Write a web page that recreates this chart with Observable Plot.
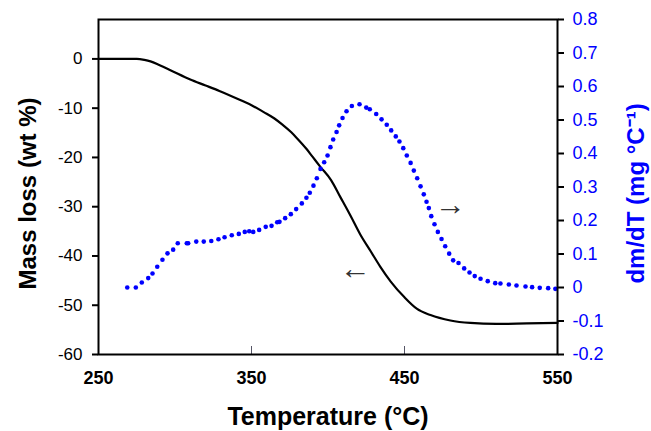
<!DOCTYPE html>
<html>
<head>
<meta charset="utf-8">
<script src="https://cdn.jsdelivr.net/npm/d3@7"></script>
<script src="https://cdn.jsdelivr.net/npm/@observablehq/plot@0.6"></script>
<style>
  html, body { margin: 0; padding: 0; background: #fff; }
  #chart svg { display: block; font-family: "Liberation Sans", Arial, sans-serif; }
</style>
</head>
<body>
<div id="chart"></div>
<script>
// ---- Data ----
const massTemp = [250,275,280,284,290,297,310,320,329,343,350,358,365,370,376,380,386,390,395,402,408,415,421,428,434,441,450,458,467,480,493,510,530,550];
const massLoss = [0,0,-0.2,-0.5,-1.3,-2.3,-4.2,-5.4,-6.5,-8.4,-9.4,-10.8,-12.1,-13.3,-14.9,-16.2,-18.3,-19.9,-21.9,-24.6,-28.0,-32.0,-35.6,-39.1,-42.1,-45.2,-48.4,-50.7,-52.0,-53.1,-53.6,-53.8,-53.7,-53.6];

const dmTemp = [268.8,274.4,278.3,282.5,285.3,288.4,291.8,295.1,298.8,301.8,307.7,308.6,313.9,318.8,323.7,328.4,332.4,337.1,341.7,345.6,348.5,351.1,355.0,359.3,363.1,366.8,368.3,372.0,375.7,379.2,382.9,385.9,388.1,390.5,392.7,395.1,397.5,399.7,401.6,403.4,405.6,407.3,409.5,412.1,415.6,420.6,425.0,427.3,431.5,435.0,438.4,441.3,444.3,446.7,449.2,451.5,454.0,456.1,458.3,460.5,462.6,464.4,465.9,467.5,469.6,471.8,474.2,476.6,479.2,481.8,485.3,489.0,492.5,495.9,499.7,504.4,509.3,512.7,518.2,523.2,529.1,533.4,538.4,543.9,548.6];
const dmdT = [0.000,0.000,0.015,0.028,0.042,0.062,0.083,0.102,0.113,0.132,0.132,0.132,0.137,0.137,0.139,0.144,0.150,0.156,0.160,0.166,0.168,0.166,0.172,0.181,0.184,0.195,0.196,0.207,0.219,0.234,0.251,0.268,0.283,0.304,0.326,0.354,0.374,0.394,0.419,0.442,0.464,0.484,0.506,0.526,0.542,0.547,0.537,0.532,0.518,0.502,0.486,0.469,0.451,0.436,0.416,0.394,0.372,0.349,0.326,0.302,0.278,0.256,0.237,0.213,0.189,0.166,0.145,0.123,0.101,0.081,0.073,0.057,0.045,0.034,0.026,0.019,0.013,0.012,0.009,0.006,0.003,0.001,-0.001,-0.002,-0.004];

const xTicks = [250, 350, 450, 550];
const leftTicks = [-60, -50, -40, -30, -20, -10, 0];
const rightTicks = [-0.2, -0.1, 0, 0.1, 0.2, 0.3, 0.4, 0.5, 0.6, 0.7, 0.8];
const leftDomain = [-60, 8];
const rightDomain = [-0.2, 0.8];

const arrowTemp = [480, 418];
const arrowMass = [-29.6, -42.7];
const arrowText = ["\u2192", "\u2190"];

const xTitle = "Temperature (°C)";
const leftTitle = "Mass loss (wt %)";
const rightTitle = "dm/dT (mg °C\u207B\u00B9)";

// ---- Build ----
const massData = massTemp.map((t, i) => ({t, m: massLoss[i]}));
const dmData = dmTemp.map((t, i) => ({t, v: dmdT[i]}));
const arrows = arrowTemp.map((t, i) => ({t, m: arrowMass[i], s: arrowText[i]}));

const toLeft = d3.scaleLinear().domain(rightDomain).range(leftDomain);
const fmtRight = d => { const v = Math.round(toLeft.invert(d) * 10) / 10; return v === 0 ? "0" : String(v); };

const chart = Plot.plot({
  width: 651,
  height: 431,
  marginLeft: 98,
  marginRight: 94,
  marginTop: 19,
  marginBottom: 77,
  style: {fontFamily: '"Liberation Sans", Arial, sans-serif', background: "#fff"},
  x: {domain: [250, 550]},
  y: {domain: leftDomain},
  marks: [
    Plot.ruleX([350, 450], {insetTop: 327, stroke: "#556", strokeWidth: 1}),
    Plot.line(massData, {x: "t", y: "m", stroke: "black", strokeWidth: 2.2, curve: "monotone-x"}),
    Plot.dot(dmData, {x: "t", y: d => toLeft(d.v), r: 2.3, fill: "#0000ff", stroke: null}),
    Plot.frame({stroke: "black", strokeWidth: 2}),
    Plot.axisY(leftTicks, {anchor: "left", tickSize: 6, tickPadding: 10, fontSize: 17, strokeWidth: 2, tickFormat: d => String(d), label: null}),
    Plot.axisY(rightTicks.map(toLeft), {anchor: "right", tickSize: 6, tickPadding: 9, fontSize: 18, strokeWidth: 2, stroke: "black", fill: "#0000ff", tickFormat: fmtRight, label: null}),
    Plot.axisX(xTicks, {anchor: "bottom", tickSize: 0, tickPadding: 17, fontSize: 18, fontWeight: "bold", tickFormat: d => String(d), label: null}),
    Plot.text(arrows, {x: "t", y: "m", text: "s", fontSize: 31, fill: "#333", fontWeight: "normal"}),
    Plot.text([xTitle], {text: d => d, frameAnchor: "bottom", textAnchor: "middle", lineAnchor: "middle", dy: 62, fontSize: 25, fontWeight: "bold", fill: "black"}),
    Plot.text([leftTitle], {text: d => d, frameAnchor: "left", textAnchor: "middle", lineAnchor: "middle", dx: -70.5, dy: 6.5, rotate: -90, fontSize: 24, fontWeight: "bold", fill: "black"}),
    Plot.text([rightTitle], {text: d => d, frameAnchor: "right", textAnchor: "middle", lineAnchor: "middle", dx: 79, dy: 6.5, rotate: -90, fontSize: 24, fontWeight: "bold", fill: "#0000ff"})
  ]
});
document.getElementById("chart").appendChild(chart);
</script>
</body>
</html>
